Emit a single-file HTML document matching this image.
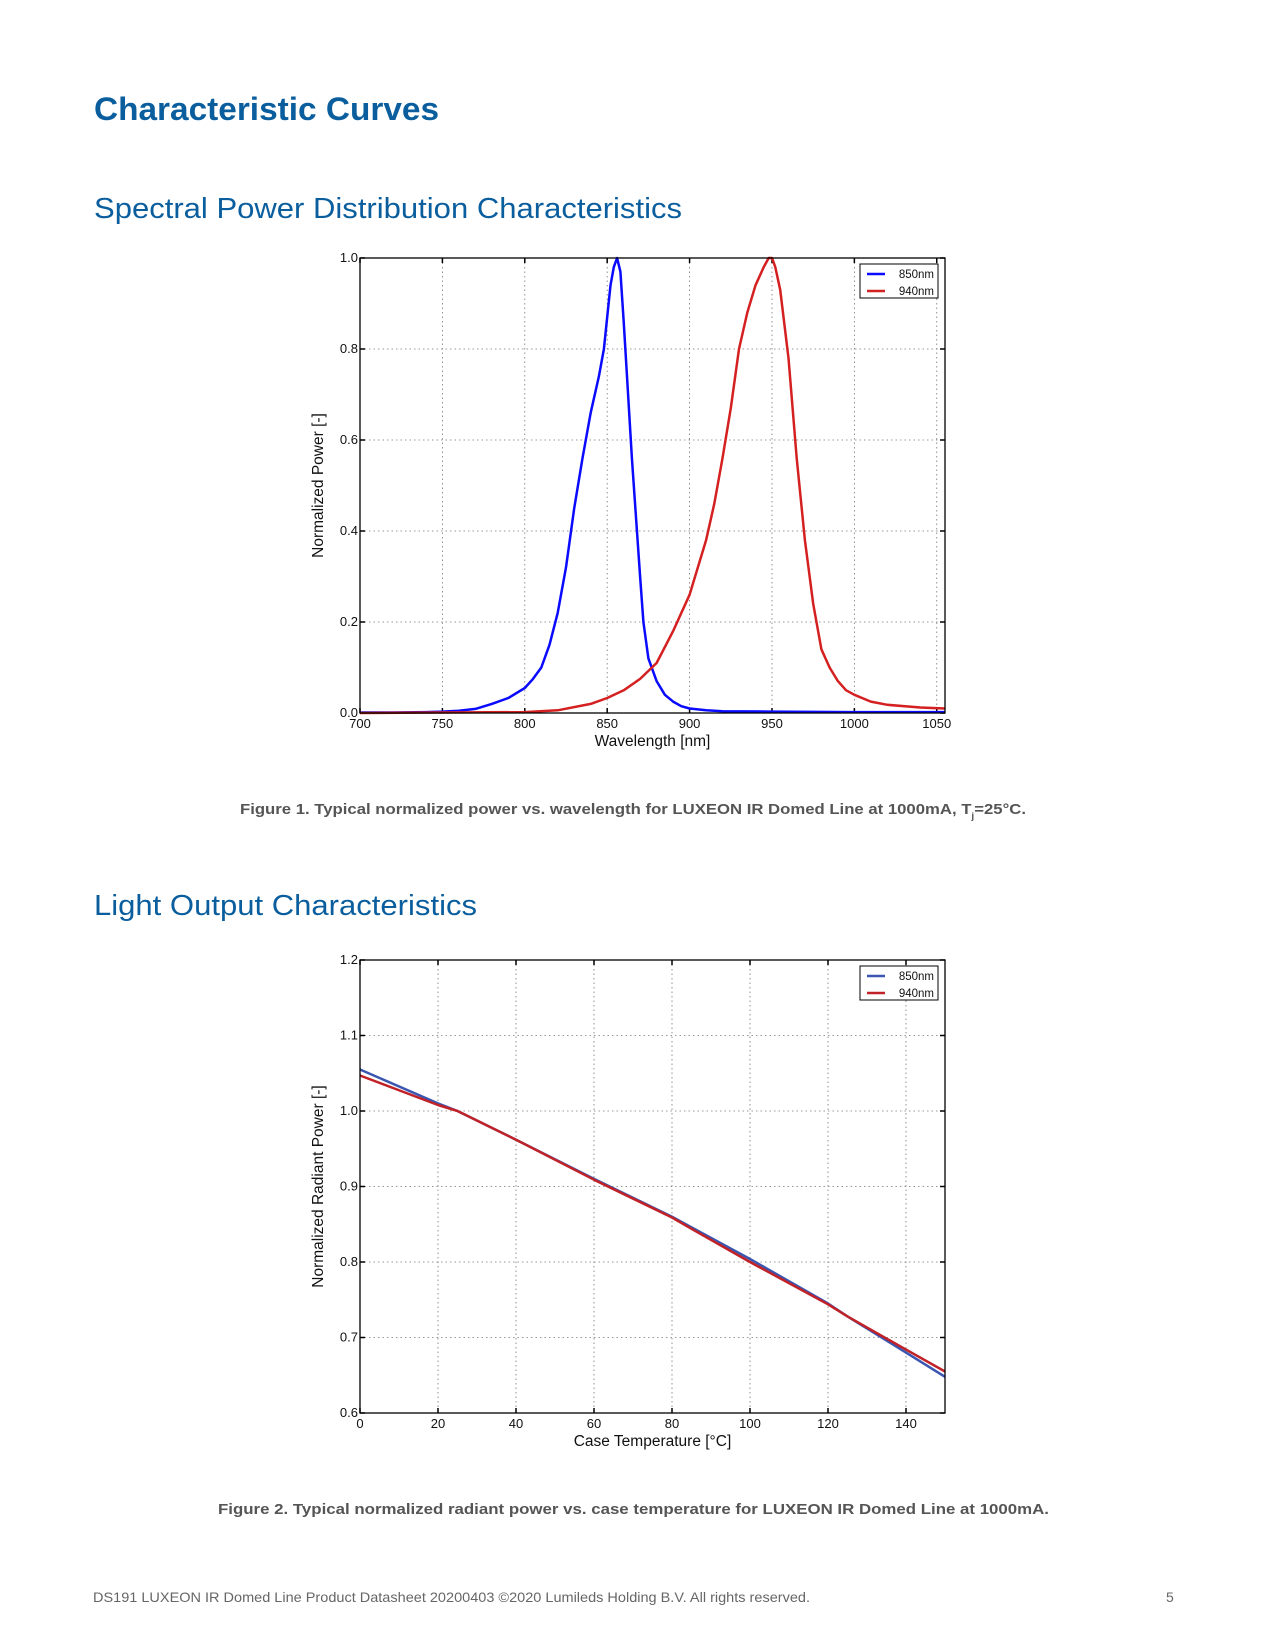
<!DOCTYPE html>
<html><head><meta charset="utf-8">
<style>
html,body{margin:0;padding:0;background:#fff;}
svg{display:block;}
</style></head>
<body>
<svg id="page" width="1275" height="1650" viewBox="0 0 1275 1650" xmlns="http://www.w3.org/2000/svg" font-family="'Liberation Sans', 'DejaVu Sans', sans-serif">
<text x="94" y="120" font-size="32" font-weight="bold" fill="#0a5e9e" textLength="345" lengthAdjust="spacingAndGlyphs">Characteristic Curves</text>
<text x="94" y="218" font-size="29" fill="#0a5e9e" textLength="588" lengthAdjust="spacingAndGlyphs">Spectral Power Distribution Characteristics</text>
<g id="chart1"></g>
<text x="240" y="814" font-size="15" font-weight="bold" fill="#555" textLength="786" lengthAdjust="spacingAndGlyphs">Figure 1. Typical normalized power vs. wavelength for LUXEON IR Domed Line at 1000mA, T<tspan font-size="9" dy="5">j</tspan><tspan dy="-5">=25°C.</tspan></text>
<text x="94" y="915" font-size="29" fill="#0a5e9e" textLength="383" lengthAdjust="spacingAndGlyphs">Light Output Characteristics</text>
<g id="chart2"></g>
<text x="218" y="1514" font-size="15" font-weight="bold" fill="#555" textLength="831" lengthAdjust="spacingAndGlyphs">Figure 2. Typical normalized radiant power vs. case temperature for LUXEON IR Domed Line at 1000mA.</text>
<text x="93" y="1602" font-size="14" fill="#666" textLength="717" lengthAdjust="spacingAndGlyphs">DS191 LUXEON IR Domed Line Product Datasheet  20200403 ©2020 Lumileds Holding B.V. All rights reserved.</text>
<text x="1166" y="1602" font-size="14" fill="#666">5</text>
</svg>
<script>
// Chart 1 data
const wl = [700,720,740,750,760,770,780,790,800,805,810,815,820,825,830,835,840,845,848,850,852,854,856,858,860,862,865,870,872,875,880,885,890,895,900,910,920,950,1000,1055];
const p850 = [0.001,0.001,0.002,0.003,0.005,0.009,0.02,0.033,0.055,0.075,0.1,0.15,0.22,0.32,0.45,0.56,0.66,0.74,0.8,0.87,0.94,0.98,1.0,0.97,0.86,0.74,0.56,0.3,0.2,0.12,0.07,0.04,0.025,0.015,0.01,0.006,0.004,0.003,0.002,0.002];
const wl2 = [700,800,820,840,850,860,870,880,890,900,910,915,920,925,930,935,940,945,948,950,952,955,960,965,970,975,980,985,990,995,1000,1010,1020,1040,1055];
const p940 = [0.0,0.002,0.006,0.02,0.033,0.05,0.075,0.11,0.18,0.26,0.38,0.46,0.56,0.67,0.8,0.88,0.94,0.98,1.0,1.0,0.98,0.93,0.78,0.56,0.38,0.24,0.14,0.1,0.07,0.05,0.04,0.025,0.018,0.012,0.01];
const xTicks1 = [700,750,800,850,900,950,1000,1050];
const yTicks1 = [0.0,0.2,0.4,0.6,0.8,1.0];
// Chart 2 data
const temps = [0,20,25,40,60,80,85,100,120,125,140,150];
const r850 = [1.055,1.01,1.0,0.962,0.91,0.86,0.846,0.804,0.745,0.728,0.68,0.648];
const r940 = [1.047,1.008,1.0,0.962,0.909,0.859,0.844,0.8,0.744,0.728,0.684,0.655];
const xTicks2 = [0,20,40,60,80,100,120,140];
const yTicks2 = [0.6,0.7,0.8,0.9,1.0,1.1,1.2];

const NS='http://www.w3.org/2000/svg';
function mk(tag,parent){const e=document.createElementNS(NS,tag);parent.appendChild(e);return e;}

function drawChart(g,cfg){
  const {L,R,T,B,xmin,xmax,ymin,ymax}=cfg;
  const sx=v=>L+(v-xmin)/(xmax-xmin)*(R-L);
  const sy=v=>B-(v-ymin)/(ymax-ymin)*(B-T);
  cfg.xTicks.forEach(v=>{
    const l=mk('line',g);
    
    
    l.setAttribute('x1',sx(v));l.setAttribute('x2',sx(v));l.setAttribute('y1',T);l.setAttribute('y2',B);
    l.setAttribute('stroke','#777');l.setAttribute('stroke-width','0.8');l.setAttribute('stroke-dasharray','1.5,3');
    const t=mk('text',g);
    
    
    t.setAttribute('x',sx(v));t.setAttribute('y',B+15);t.setAttribute('font-size','13');t.setAttribute('text-anchor','middle');t.setAttribute('fill','#111');
    t.textContent=v;
    [[B,B-5],[T,T+5]].forEach(([a,b])=>{const k=mk('line',g);
      
      
      k.setAttribute('x1',sx(v));k.setAttribute('x2',sx(v));k.setAttribute('y1',a);k.setAttribute('y2',b);k.setAttribute('stroke','#000');k.setAttribute('stroke-width','1.5');});
  });
  cfg.yTicks.forEach(v=>{
    const l=mk('line',g);
    
    
    l.setAttribute('x1',L);l.setAttribute('x2',R);l.setAttribute('y1',sy(v));l.setAttribute('y2',sy(v));
    l.setAttribute('stroke','#777');l.setAttribute('stroke-width','0.8');l.setAttribute('stroke-dasharray','1.5,3');
    const t=mk('text',g);
    
    
    t.setAttribute('x',L-2);t.setAttribute('y',sy(v)+4);t.setAttribute('font-size','13');t.setAttribute('text-anchor','end');t.setAttribute('fill','#111');
    t.textContent=v.toFixed(1);
    [[L,L+5],[R,R-5]].forEach(([a,b])=>{const k=mk('line',g);
      
      
      k.setAttribute('x1',a);k.setAttribute('x2',b);k.setAttribute('y1',sy(v));k.setAttribute('y2',sy(v));k.setAttribute('stroke','#000');k.setAttribute('stroke-width','1.5');});
  });
  cfg.series.forEach(s=>{
    const p=mk('polyline',g);
    
    
    p.setAttribute('points',s.x.map((v,i)=>sx(v).toFixed(1)+','+sy(s.y[i]).toFixed(1)).join(' '));
    p.setAttribute('fill','none');p.setAttribute('stroke',s.color);p.setAttribute('stroke-width',s.w);p.setAttribute('stroke-linejoin','round');
  });
  const f=mk('rect',g);
  
  
  f.setAttribute('x',L);f.setAttribute('y',T);f.setAttribute('width',R-L);f.setAttribute('height',B-T);
  f.setAttribute('fill','none');f.setAttribute('stroke','#000');f.setAttribute('stroke-width','1.3');
  const lg=mk('g',g);
  
  
  const lr=mk('rect',lg);
  
  
  lr.setAttribute('x',R-85);lr.setAttribute('y',T+6);lr.setAttribute('width',78);lr.setAttribute('height',34);
  lr.setAttribute('fill','#fff');lr.setAttribute('stroke','#000');lr.setAttribute('stroke-width','1');
  cfg.series.forEach((s,i)=>{
    const yy=T+16+i*17;
    const ll=mk('line',lg);
    
    
    ll.setAttribute('x1',R-78);ll.setAttribute('x2',R-60);ll.setAttribute('y1',yy);ll.setAttribute('y2',yy);
    ll.setAttribute('stroke',s.color);ll.setAttribute('stroke-width',s.w);
    const lt=mk('text',lg);
    
    
    lt.setAttribute('x',R-11);lt.setAttribute('y',yy+4);lt.setAttribute('font-size','11.5');lt.setAttribute('text-anchor','end');lt.setAttribute('fill','#111');
    lt.textContent=s.label;
  });
  const xl=mk('text',g);
  
  
  xl.setAttribute('x',(L+R)/2);xl.setAttribute('y',B+33);xl.setAttribute('font-size','15.5');xl.setAttribute('text-anchor','middle');xl.setAttribute('fill','#111');
  xl.textContent=cfg.xlabel;
  const yl=mk('text',g);
  
  
  yl.setAttribute('transform','translate('+(L-37)+','+((T+B)/2)+') rotate(-90)');
  yl.setAttribute('font-size','15.5');yl.setAttribute('text-anchor','middle');yl.setAttribute('fill','#111');
  yl.textContent=cfg.ylabel;
}

drawChart(document.getElementById('chart1'),{L:360,R:945,T:258,B:713,xmin:700,xmax:1055,ymin:0,ymax:1,
  xTicks:xTicks1,yTicks:yTicks1,xlabel:'Wavelength [nm]',ylabel:'Normalized Power [-]',
  series:[{name:'series-850nm',label:'850nm',x:wl,y:p850,color:'#0a0aff',w:2.5},
          {name:'series-940nm',label:'940nm',x:wl2,y:p940,color:'#d42020',w:2.5}]});
drawChart(document.getElementById('chart2'),{L:360,R:945,T:960,B:1413,xmin:0,xmax:150,ymin:0.6,ymax:1.2,
  xTicks:xTicks2,yTicks:yTicks2,xlabel:'Case Temperature [°C]',ylabel:'Normalized Radiant Power [-]',
  series:[{name:'series-850nm',label:'850nm',x:temps,y:r850,color:'#3a56b0',w:2.5},
          {name:'series-940nm',label:'940nm',x:temps,y:r940,color:'#c02228',w:2.5}]});
</script>
</body></html>
